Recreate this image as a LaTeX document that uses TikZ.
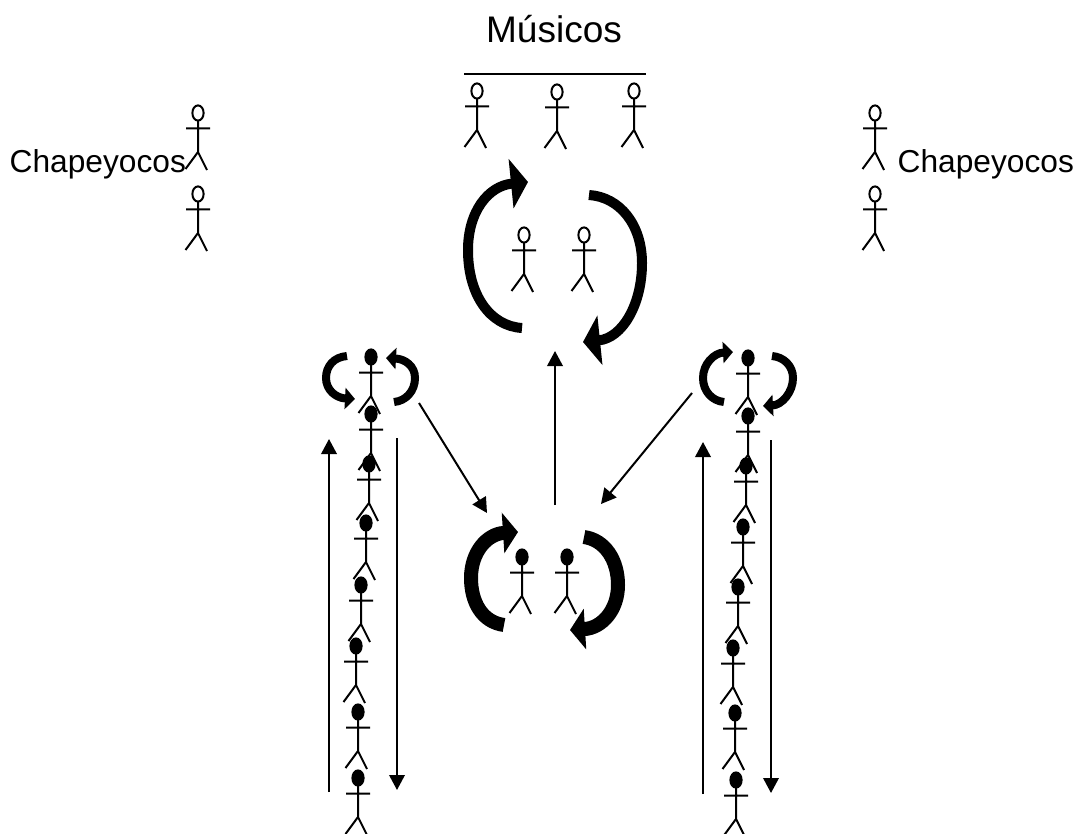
\documentclass[tikz,border=0pt]{standalone}
\usepackage{fontspec}
\setmainfont{Liberation Sans}
\usetikzlibrary{arrows.meta}
\tikzset{
	pics/actor/.style={code={
		\draw[line width=2pt] (0,7) -- (0,39) (-12,15.5) -- (12,15.5) (-12.5,56) -- (0,39) -- (9,57);
		\draw[line width=2pt, fill=#1] (0,0) ellipse (5.6pt and 7.6pt);
	}},
	thin arrow/.style={line width=2pt, -{Triangle[length=15pt,width=15.5pt]}},
	big turn/.style={line width=10pt, -{Triangle[length=17pt,width=49pt]}},
	mid turn/.style={line width=14pt, -{Triangle[length=15pt,width=40pt]}},
	small turn/.style={line width=8pt, -{Triangle[length=10pt,width=21pt]}},
	label/.style={inner sep=0pt, font=\fontsize{31.7}{32}\selectfont},
}
\begin{document}
\begin{tikzpicture}[x=1pt,y=-1pt]
	\useasboundingbox (0,0) rectangle (1078,834);
	\clip (0,0) rectangle (1078,834);

	% Musicos
	\node[label, font=\fontsize{37}{37}\selectfont] (musicos) at (554,29) {Músicos};
	\coordinate (barL) at (464,74);
	\coordinate (barR) at (646,74);
	\draw[line width=2pt] (barL) -- (barR);
	\node[label, anchor=base west] (chapeL) at (9.5,173) {Chapeyocos};
	\node[label, anchor=base west] (chapeR) at (897.5,173) {Chapeyocos};

	\foreach \x/\y in {477/91,557/92,634/91,524/235,584/235,198/113,198/194,875/113,875/194}{
		\pic at (\x,\y) {actor=white};
	}
	% les deux colonnes
	\foreach \x/\y in {371/357,371/414,369/464,366/523,361/585,356/646,358/712,358/778,
		748/358,748/416,746/466,743/527,738/587,733/648,735/713,736/780}{
		\pic at (\x,\y) {actor=black};
	}
	\foreach \x/\y in {522/557,567/557}{
		\pic at (\x,\y) {actor=black};
	}

	% fleches courbes
	\draw[big turn] (522,328) .. controls (490,326) and (468,295) .. (468,250) .. controls (468,212) and (488,186) .. (528,182);
	\draw[big turn] (589,195) .. controls (620,197) and (642,225) .. (642,263) .. controls (642,305) and (622,338) .. (583,342);
	\draw[mid turn] (504,625) .. controls (482,622) and (471,602) .. (471,578) .. controls (471,552) and (487,534) .. (518,532);
	\draw[mid turn] (584,537) .. controls (605,540) and (618,560) .. (618,585) .. controls (618,610) and (602,628) .. (570,630);
	\draw[small turn] (347,356) .. controls (334,357) and (326,366) .. (326,378) .. controls (326,390) and (336,398) .. (355,399);
	\draw[small turn] (394,402) .. controls (406,401) and (415,391) .. (415,378) .. controls (415,366) and (405,359) .. (386,358);
	\draw[small turn] (724,402) .. controls (712,401) and (703,391) .. (703,378) .. controls (703,364) and (714,353) .. (733,352);
	\draw[small turn] (772,356) .. controls (784,357) and (793,366) .. (793,378) .. controls (793,392) and (782,405) .. (763,406);

	% fleches droites
	\coordinate (upLa) at (329,792);
	\coordinate (upLb) at (329,439);
	\coordinate (downLa) at (397,438);
	\coordinate (downLb) at (397,790);
	\coordinate (upRa) at (703,794);
	\coordinate (upRb) at (703,442);
	\coordinate (downRa) at (771,440);
	\coordinate (downRb) at (771,793);
	\coordinate (midA) at (555,505);
	\coordinate (midB) at (555,351);
	\coordinate (diagLa) at (419,403);
	\coordinate (diagLb) at (487,513);
	\coordinate (diagRa) at (692,393);
	\coordinate (diagRb) at (601,504);
	\foreach \a/\b in {upLa/upLb,downLa/downLb,upRa/upRb,downRa/downRb,midA/midB,diagLa/diagLb,diagRa/diagRb}{
		\draw[thin arrow] (\a) -- (\b);
	}
\end{tikzpicture}
\end{document}
